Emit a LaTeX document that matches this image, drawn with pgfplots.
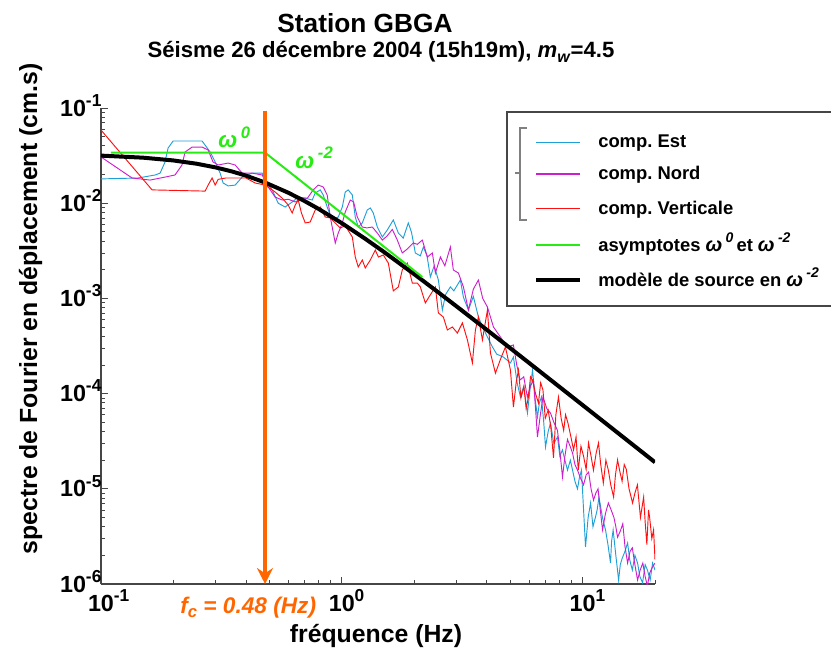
\documentclass[border=0pt]{standalone}
\usepackage{fontspec}
\setmainfont{Liberation Sans}
\usepackage{pgfplots}
\pgfplotsset{compat=1.18}
\usetikzlibrary{arrows.meta}
\definecolor{cEst}{RGB}{30,160,215}
\definecolor{cNord}{RGB}{205,30,205}
\definecolor{cVert}{RGB}{255,15,15}
\definecolor{cAsym}{RGB}{40,235,20}
\definecolor{cFc}{RGB}{255,102,0}
\definecolor{axgray}{RGB}{70,70,70}
\frenchspacing
\newcommand{\supT}[1]{\raisebox{0.42em}{\fontsize{13}{13}\selectfont #1}}
\newcommand{\supL}[1]{\raisebox{0.42em}{\fontsize{10.5}{10.5}\selectfont #1}}
\newcommand{\supW}[1]{\raisebox{0.42em}{\fontsize{12.5}{12.5}\selectfont #1}}
\begin{document}
\begin{tikzpicture}
\useasboundingbox (0pt,0pt) rectangle (623.25pt,488.25pt);
\begin{axis}[
  at={(75.75pt,50.25pt)}, anchor=south west,
  scale only axis, width=415.5pt, height=357pt,
  xmode=log, ymode=log,
  xmin=0.1, xmax=20, ymin=1e-6, ymax=1e-1,
  axis lines=left, axis line style={-, axgray, line width=1pt},
  tick align=inside, major tick length=5pt, minor tick length=3pt,
  every tick/.style={axgray, line width=0.6pt},
  xtick={0.1,1,10},
  xticklabels={10\rlap{\supT{-1}},10\rlap{\supT{0}},10\rlap{\supT{1}}},
  minor xtick={0.2,0.3,0.4,0.5,0.6,0.7,0.8,0.9,2,3,4,5,6,7,8,9,20},
  ytick={1e-6,1e-5,1e-4,1e-3,1e-2,1e-1},
  yticklabels={10\supT{-6},10\supT{-5},10\supT{-4},10\supT{-3},10\supT{-2},10\supT{-1}},
  minor ytick={2e-6,3e-6,4e-6,5e-6,6e-6,7e-6,8e-6,9e-6,2e-5,3e-5,4e-5,5e-5,6e-5,7e-5,8e-5,9e-5,2e-4,3e-4,4e-4,5e-4,6e-4,7e-4,8e-4,9e-4,2e-3,3e-3,4e-3,5e-3,6e-3,7e-3,8e-3,9e-3,2e-2,3e-2,4e-2,5e-2,6e-2,7e-2,8e-2,9e-2},
  tick label style={font=\fontsize{17.5}{17.5}\selectfont\bfseries},
  yticklabel style={anchor=base east, inner sep=0pt, xshift=0.5pt, yshift=-6pt},
  xticklabel style={inner sep=0pt, yshift=-4pt},
]
\addplot[cEst, line width=0.7pt] coordinates {
(0.1,0.018) (0.1425,0.0184) (0.168,0.0198) (0.176,0.0207) (0.1845,0.0271) (0.19,0.038) (0.1993,0.045) (0.263,0.045) (0.284,0.0345) (0.298,0.0271) (0.3125,0.0207) (0.3216,0.0163) (0.3375,0.0152) (0.3608,0.0155) (0.3858,0.0188) (0.4246,0.0207) (0.4671,0.0207) (0.4808,0.0175) (0.514,0.0138) (0.5445,0.0100) (0.582,0.00912) (0.6225,0.0103) (0.6596,0.0116) (0.7051,0.0113) (0.754,0.0108) (0.776,0.0128) (0.814,0.0138) (0.8377,0.0122) (0.87,0.0091) (0.913,0.00667) (0.967,0.00716) (1.005,0.00912) (1.034,0.0131) (1.064,0.0138) (1.106,0.0122) (1.138,0.00716) (1.171,0.00562) (1.217,0.0062) (1.276,0.00849) (1.314,0.00891) (1.352,0.00789) (1.405,0.00562) (1.474,0.00442) (1.546,0.00524) (1.637,0.00667) (1.718,0.00486) (1.8,0.0043) (1.89,0.0062) (1.95,0.0049) (2.021,0.003) (2.12,0.0028) (2.182,0.00347) (2.26,0.0028) (2.333,0.00168) (2.42,0.0022) (2.519,0.00156) (2.617,0.000755) (2.7,0.0011) (2.825,0.00132) (2.92,0.0012) (3.109,0.00156) (3.201,0.00103) (3.357,0.000755) (3.52,0.00105) (3.694,0.000638) (3.85,0.0005) (4.027,0.000393) (4.225,0.000309) (4.4,0.00026) (4.693,0.000242) (5.018,0.00021)
(5.164,0.000242) (5.35,1.3e-4) (5.523,9.2e-5) (5.7,1.2e-4) (5.905,6.25e-5) (6.05,1.1e-4) (6.2,0.000177) (6.35,9e-5) (6.499,5.67e-5) (6.62,8e-5) (6.75,9.2e-5) (6.9,5e-5) (7.018,2.75e-5) (7.2,4e-5) (7.36,4.9e-5) (7.6,3e-5) (7.87,3.5e-5) (8.05,2.2e-5) (8.25,2.56e-5) (8.45,2.0e-5) (8.66,1.57e-5) (8.9,2.0e-5) (9.09,1.57e-5) (9.3,1.2e-5) (9.53,1.0e-5) (9.7,1.3e-5) (9.9,1.57e-5) (10.1,6e-6) (10.29,2.45e-6) (10.55,5e-6) (10.8,7.1e-6) (11.05,4e-6) (11.32,5.06e-6) (11.5,6e-6) (11.7,8.2e-6) (12.1,5e-6) (12.46,3.69e-6) (12.75,2.6e-6) (13.07,1.66e-6) (13.2,2.8e-6) (13.4,3.69e-6) (13.75,2.0e-6) (14.12,1.1e-6) (14.35,1.6e-6) (14.6,1.85e-6) (15.0,2.2e-6) (15.39,2.7e-6) (15.7,1.8e-6) (16.1,1.4e-6) (16.5,2.0e-6) (16.93,1.66e-6) (17.3,1.2e-6) (17.76,1.03e-6) (18.2,1.6e-6) (18.6,1.4e-6) (19.1,1.1e-6) (19.54,1.66e-6) (20,1.4e-6)
};
\addplot[cNord, line width=0.7pt] coordinates {
(0.1,0.0306) (0.1346,0.0184) (0.16,0.0175) (0.1845,0.0188) (0.203,0.0198) (0.217,0.0252) (0.2235,0.0345) (0.239,0.0389) (0.263,0.0389) (0.2786,0.0362) (0.292,0.0271) (0.3066,0.0252) (0.3375,0.0264) (0.3608,0.0252) (0.3858,0.0207) (0.4246,0.0207) (0.4671,0.0198) (0.495,0.0148) (0.529,0.0116) (0.5656,0.0108) (0.6,0.011) (0.641,0.0103) (0.685,0.0113) (0.72,0.0113) (0.7612,0.0138) (0.7985,0.0155) (0.8377,0.0148) (0.87,0.0122) (0.896,0.00716) (0.9397,0.00382) (0.967,0.00486) (1.005,0.0062) (1.034,0.00809) (1.085,0.0108) (1.12,0.0103) (1.16,0.00716) (1.217,0.00562) (1.27,0.0055) (1.339,0.00562) (1.405,0.00486) (1.474,0.0041) (1.54,0.0045) (1.622,0.0053) (1.701,0.0041) (1.784,0.003) (1.87,0.0033) (1.983,0.00382) (2.06,0.0037) (2.161,0.0041) (2.267,0.00272) (2.378,0.003) (2.448,0.00185) (2.568,0.00272) (2.68,0.0022) (2.825,0.00347) (2.907,0.00199) (3.05,0.00185) (3.201,0.00132) (3.357,0.000755) (3.52,0.00125) (3.694,0.00156) (3.85,0.001) (4.027,0.000812) (4.266,0.000501) (4.56,0.000393) (4.876,0.000309)
(5.164,0.000324) (5.33,2.0e-4) (5.5,0.000139) (5.7,1.5e-4) (5.9,0.000092) (6.08,1.2e-4) (6.254,0.000139) (6.38,7e-5) (6.499,3.5e-5) (6.68,6e-5) (6.85,9.2e-5) (7.1,7e-5) (7.36,6.25e-5) (7.6,5.0e-5) (7.87,4.1e-5) (8.05,2.5e-5) (8.256,1.33e-5) (8.45,2.2e-5) (8.66,3.3e-5) (8.88,2.8e-5) (9.086,2.38e-5) (9.3,1.8e-5) (9.53,1.57e-5) (9.8,1.3e-5) (10.1,1.1e-5) (10.35,1.4e-5) (10.6,1.5e-5) (10.85,1.0e-5) (11.11,7.6e-6) (11.35,9e-6) (11.6,1.0e-5) (11.85,6e-6) (12.11,3.7e-6) (12.45,5.5e-6) (12.8,7.1e-6) (13.15,6e-6) (13.5,5e-6) (13.75,4e-6) (13.98,3.1e-6) (14.35,3.6e-6) (14.7,4.3e-6) (15.0,2.5e-6) (15.39,1.66e-6) (15.75,2.2e-6) (16.1,2.4e-6) (16.5,1.6e-6) (16.93,1.1e-6) (17.35,1.4e-6) (17.8,1.66e-6) (18.2,1.2e-6) (18.6,9.5e-7) (19.0,1.3e-6) (19.5,1.5e-6) (20,1.66e-6)
};
\addplot[cVert, line width=0.7pt] coordinates {
(0.1,0.0587) (0.163,0.0138) (0.2706,0.0134) (0.2786,0.0155) (0.2894,0.0184) (0.298,0.0155) (0.3066,0.0178) (0.33,0.0184) (0.4,0.0184) (0.4369,0.0163) (0.4808,0.0155) (0.529,0.0131) (0.5656,0.0113) (0.5992,0.00958) (0.6225,0.00789) (0.641,0.00958) (0.6596,0.0108) (0.68,0.0079) (0.7051,0.0062) (0.7396,0.00635) (0.776,0.00849) (0.814,0.00912) (0.854,0.00716) (0.896,0.007) (0.9397,0.0062) (0.9858,0.00549) (1.034,0.0058) (1.106,0.00442) (1.138,0.00272) (1.171,0.00214) (1.217,0.00253) (1.252,0.00209) (1.314,0.00253) (1.378,0.00322) (1.42,0.00272) (1.488,0.00286) (1.561,0.00235) (1.637,0.0012) (1.718,0.00132) (1.784,0.00199) (1.872,0.00235) (1.964,0.00145) (2.06,0.00145) (2.12,0.00132) (2.224,0.000895) (2.3,0.00103) (2.448,0.00132) (2.519,0.000703) (2.642,0.000638) (2.745,0.000466) (2.88,0.000501) (3.021,0.000433) (3.17,0.000552) (3.326,0.000366) (3.488,0.00021) (3.59,0.000466) (3.694,0.000638) (3.839,0.000366) (4.027,0.000755) (4.145,0.000267) (4.348,0.000164) (4.56,0.000229) (4.784,0.000309) (5.018,0.000177)
(5.164,7.2e-5) (5.3,1.3e-4) (5.42,0.000177) (5.55,9e-5) (5.71,0.000118) (5.83,7e-5) (5.962,9.2e-5) (6.08,1.5e-4) (6.2,0.000139) (6.38,1.0e-4) (6.561,7.96e-5) (6.7,1.3e-4) (6.85,0.000109) (7.0,5.5e-5) (7.2,6.7e-5) (7.38,4.5e-5) (7.576,2.12e-5) (7.75,6e-5) (7.946,9.2e-5) (8.15,5.5e-5) (8.35,4.1e-5) (8.5,6e-5) (8.7,4.9e-5) (8.95,3.5e-5) (9.175,2.56e-5) (9.4,3.5e-5) (9.6,1.57e-5) (9.85,2.8e-5) (10.1,2.2e-5) (10.35,1.6e-5) (10.59,3.03e-5) (10.85,2.2e-5) (11.1,1.57e-5) (11.4,2.4e-5) (11.65,3.03e-5) (11.9,1.8e-5) (12.2,1.15e-5) (12.5,2.0e-5) (12.8,1.57e-5) (13.1,1.1e-5) (13.46,8.2e-6) (13.7,1.4e-5) (13.98,2.01e-5) (14.3,1.5e-5) (14.6,1.2e-5) (14.9,1.8e-5) (15.2,1.6e-5) (15.6,1.0e-5) (16.14,7.1e-6) (16.5,9e-6) (16.9,1.1e-5) (17.4,5e-6) (17.94,8.2e-6) (18.2,4.5e-6) (18.5,2.6e-6) (18.8,6e-6) (19.0,5e-6) (19.4,3e-6) (19.73,3.7e-6) (20,1.8e-6)
};
\addplot[black, line width=3pt] coordinates {
(0.1,0.03163) (0.15,0.03006) (0.2,0.02812) (0.25,0.02596) (0.3,0.02373) (0.35,0.02155) (0.4,0.01948) (0.48,0.0165) (0.6,0.01288) (0.7,0.01055) (0.8,0.008735) (1.0,0.00618) (1.25,0.004241) (1.5,0.003065) (2.0,0.001797) (2.5,0.001173) (3,0.0008237) (4,0.0004685) (5,0.0003013) (6,0.0002099) (7,0.0001544) (8,0.0001183) (10,7.586e-5) (12,5.272e-5) (14,3.875e-5) (16,2.968e-5) (18,2.345e-5) (20,1.9e-5)
};
\addplot[cAsym, line width=1.5pt] coordinates {(0.11,0.034) (0.48,0.034) (2.16,0.00168)};
\addplot[cFc, line width=2.5pt, -{Stealth[length=12pt,width=12pt,inset=4pt]}] coordinates {(0.48,0.094) (0.48,1e-6)};
\end{axis}
\begin{scope}[x=0.75pt,y=0.75pt]
% titles and labels
\node[anchor=base, font=\fontsize{19.7}{19.7}\selectfont\bfseries] at (365,618) {Station GBGA};
\node[anchor=base, font=\fontsize{16.6}{16.6}\selectfont\bfseries] at (381,593) {Séisme 26 décembre 2004 (15h19m), \textit{m}\raisebox{-0.2em}{\fontsize{12}{12}\selectfont\textit{w}}=4.5};
\node[anchor=base, font=\fontsize{18.6}{18.6}\selectfont\bfseries] at (376,9) {fréquence (Hz)};
\node[anchor=base, rotate=90, font=\fontsize{18.6}{18.6}\selectfont\bfseries] at (37,342) {spectre de Fourier en déplacement (cm.s)};
\node[anchor=base west, inner sep=0pt, text=cFc, font=\fontsize{17}{17}\selectfont\bfseries\itshape] at (180,38) {f\raisebox{-0.22em}{\fontsize{12.5}{12.5}\selectfont c} = 0.48 (Hz)};
\node[anchor=base west, inner sep=0pt, text=cAsym, font=\fontsize{17}{17}\selectfont\bfseries\itshape] at (218,503) {ω\,\supW{0}};
\node[anchor=base west, inner sep=0pt, text=cAsym, font=\fontsize{17}{17}\selectfont\bfseries\itshape] at (295,483) {ω\,\supW{-2}};
% legend
\draw[line width=1.1pt, axgray] (840,539) -- (507,539) -- (507,345) -- (840,345);
\draw[line width=0.8pt, gray] (527,523) -- (520,523) -- (520,431) -- (527,431);
\draw[line width=0.8pt, gray] (520,478) -- (515,478);
\draw[cEst, line width=0.7pt] (536,509) -- (580,509);
\draw[cNord, line width=1.3pt] (536,477) -- (580,477);
\draw[cVert, line width=0.7pt] (536,443) -- (580,443);
\draw[cAsym, line width=1.6pt] (536,406) -- (580,406);
\draw[black, line width=3pt] (536,371) -- (580,371);
\begin{scope}[every node/.style={anchor=base west, inner sep=0pt, font=\fontsize{13.8}{13.8}\selectfont\bfseries}]
\node at (598,503) {comp. Est};
\node at (598,471) {comp. Nord};
\node at (598,437) {comp. Verticale};
\node at (598,400) {asymptotes \textit{\fontsize{15}{15}\selectfont ω\,\supL{0}}\,et \textit{\fontsize{15}{15}\selectfont ω\,\supL{-2}}};
\node at (598,365) {modèle de source en \textit{\fontsize{15}{15}\selectfont ω\,\supL{-2}}};
\end{scope}
\end{scope}
\end{tikzpicture}
\end{document}
